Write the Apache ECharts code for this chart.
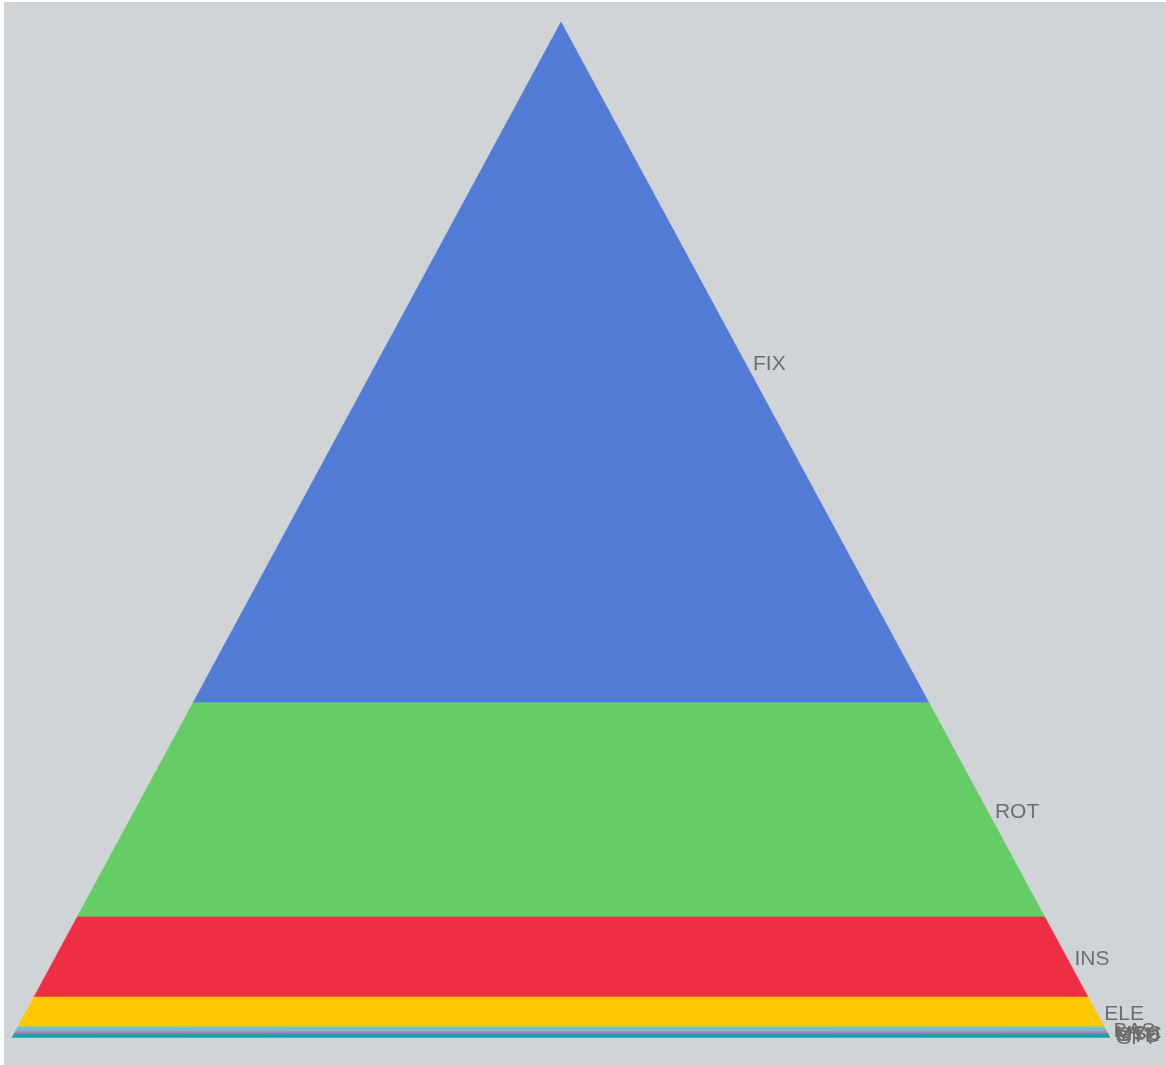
<!DOCTYPE html>
<html>
<head>
<meta charset="utf-8">
<script src="https://cdn.jsdelivr.net/npm/echarts@6/dist/echarts.min.js"></script>
<style>
  html, body { margin: 0; padding: 0; background: #ffffff; }
  #bg { position: absolute; left: 4px; top: 2px; width: 1162px; height: 1063px; background: #d0d4d7; }
  #chart { position: absolute; left: 0; top: 0; width: 1166px; height: 1065px; }
</style>
</head>
<body>
<div id="bg"></div>
<div id="chart"></div>
<script>
const categories = ['FIX', 'ROT', 'INS', 'ELE', 'BAS', 'MSC', 'OTH', 'HYD', 'SFT'];
const values = [680, 214, 80, 30, 4, 1.5, 1, 1, 3];
const colors = ['#527bd6', '#66cc66', '#ee2e42', '#ffc800', '#66c0e8', '#e8883a', '#b07ba6', '#3d8fd0', '#17a0aa'];

const total = values.reduce((a, b) => a + b, 0);
const segData = [];
let acc = 0;
values.forEach((v, i) => {
  segData.push([acc, acc + v, i]);
  acc += v;
});

const chart = echarts.init(document.getElementById('chart'), null, { renderer: 'canvas' });
chart.setOption({
  backgroundColor: 'transparent',
  animation: false,
  grid: { left: 12, top: 22, width: 1098, height: 1015.5 },
  xAxis: { type: 'value', min: -1, max: 1, show: false },
  yAxis: { type: 'value', min: 0, max: total, inverse: true, show: false },
  series: [{
    type: 'custom',
    data: segData,
    renderItem: function (params, api) {
      const y0 = api.value(0), y1 = api.value(1), idx = api.value(2);
      const w0 = y0 / total, w1 = y1 / total;
      const pts = [
        api.coord([-w0, y0]), api.coord([w0, y0]),
        api.coord([w1, y1]), api.coord([-w1, y1])
      ];
      const ym = (y0 + y1) / 2;
      const lp = api.coord([ym / total, ym]);
      return {
        type: 'group',
        children: [
          { type: 'polygon', shape: { points: pts },
            style: { fill: colors[idx], stroke: colors[idx], lineWidth: 0.5 } },
          { type: 'text', x: lp[0] + 8, y: lp[1] + 2,
            style: { text: categories[idx], fill: '#6e6e6e', fontSize: 21,
              fontFamily: 'Liberation Sans, Arial, sans-serif',
              align: 'left', verticalAlign: 'middle' } }
        ]
      };
    }
  }]
});
</script>
</body>
</html>
